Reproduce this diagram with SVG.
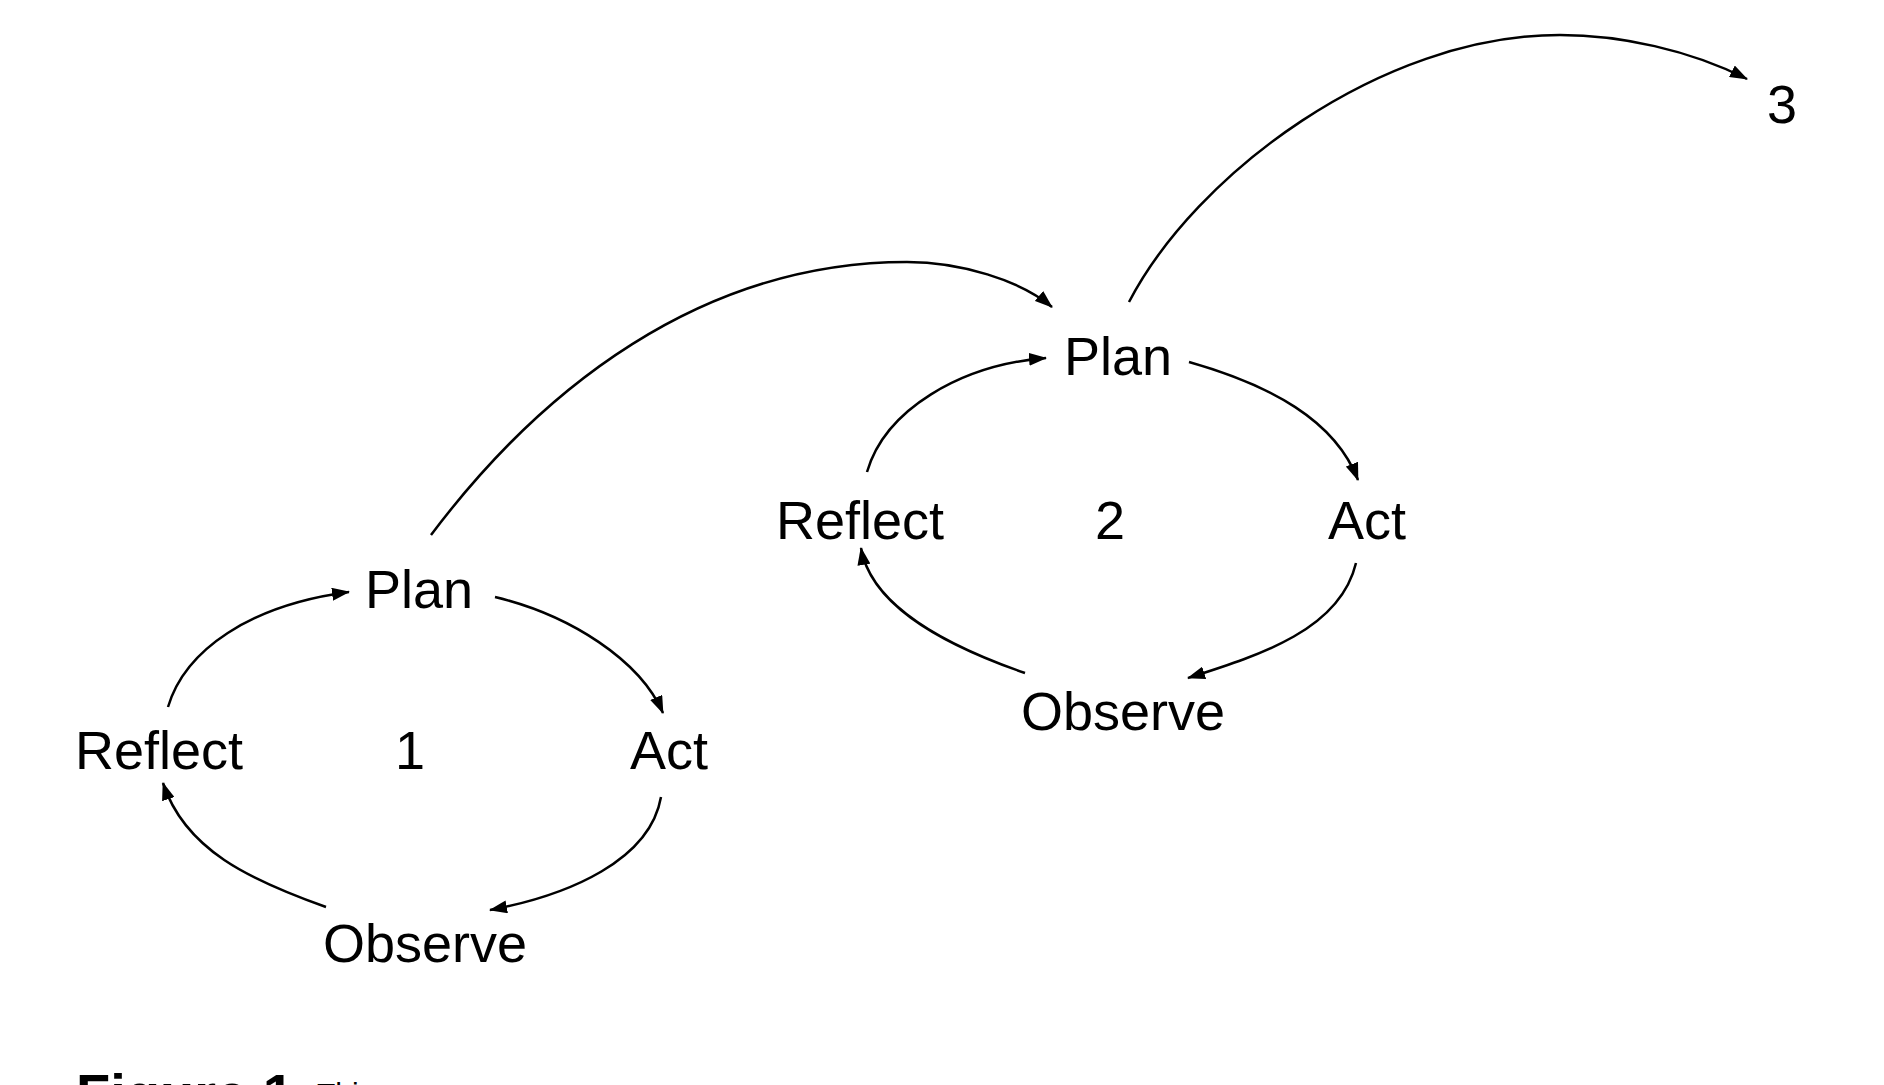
<svg xmlns="http://www.w3.org/2000/svg" width="1884" height="1085" viewBox="0 0 1884 1085">
<style>
.lbl{font-family:"Liberation Sans",Arial,sans-serif;font-size:54px;fill:#000;text-anchor:middle}
.cap{font-family:"Liberation Sans",Arial,sans-serif;fill:#000}
.edge{fill:none;stroke:#000;stroke-width:2.5;marker-end:url(#arr)}
</style>
<defs>
<marker id="arr" viewBox="0 0 18 13" refX="17" refY="6.5" markerWidth="18" markerHeight="13" markerUnits="userSpaceOnUse" orient="auto">
<path d="M0,0 L18,6.5 L0,13 z" fill="#000"/>
</marker>
</defs>
<rect width="1884" height="1085" fill="#fff"/>
<g id="connectors">
<path class="edge" d="M168,707 C185,650 250,605 349,592"/>
<path class="edge" d="M495,597 C570,615 640,660 663,713"/>
<path class="edge" d="M661,797 C650,860 570,895 490,910"/>
<path class="edge" d="M326,907 C250,880 185,850 163,783"/>
<path class="edge" d="M867,472 C885,410 960,365 1046,358"/>
<path class="edge" d="M1189,362 C1270,385 1335,420 1358,480"/>
<path class="edge" d="M1356,563 C1340,630 1260,655 1188,678"/>
<path class="edge" d="M1025,673 C930,640 870,600 861,548"/>
<path class="edge" d="M431,535 C540,390 700,262 907,262 C960,262 1020,280 1052,307"/>
<path class="edge" d="M1129,302 C1195,175 1380,35 1560,35 C1620,35 1690,50 1747,79"/>
</g>
<g id="cycle1">
<g id="plan1"><text class="lbl" x="419" y="608">Plan</text></g>
<g id="act1"><text class="lbl" x="669" y="769">Act</text></g>
<g id="observe1"><text class="lbl" x="425" y="962">Observe</text></g>
<g id="reflect1"><text class="lbl" x="159" y="769">Reflect</text></g>
<g id="num1"><text class="lbl" x="410" y="769">1</text></g>
</g>
<g id="cycle2">
<g id="plan2"><text class="lbl" x="1118" y="375">Plan</text></g>
<g id="act2"><text class="lbl" x="1367" y="539">Act</text></g>
<g id="observe2"><text class="lbl" x="1123" y="730">Observe</text></g>
<g id="reflect2"><text class="lbl" x="860" y="539">Reflect</text></g>
<g id="num2"><text class="lbl" x="1110" y="539">2</text></g>
</g>
<g id="num3"><text class="lbl" x="1782" y="123">3</text></g>
<g id="caption">
<text class="cap" x="76" y="1113" font-size="56" font-weight="bold">Figure 1</text>
<text class="cap" x="317" y="1104" font-size="30">This</text>
</g>
</svg>
